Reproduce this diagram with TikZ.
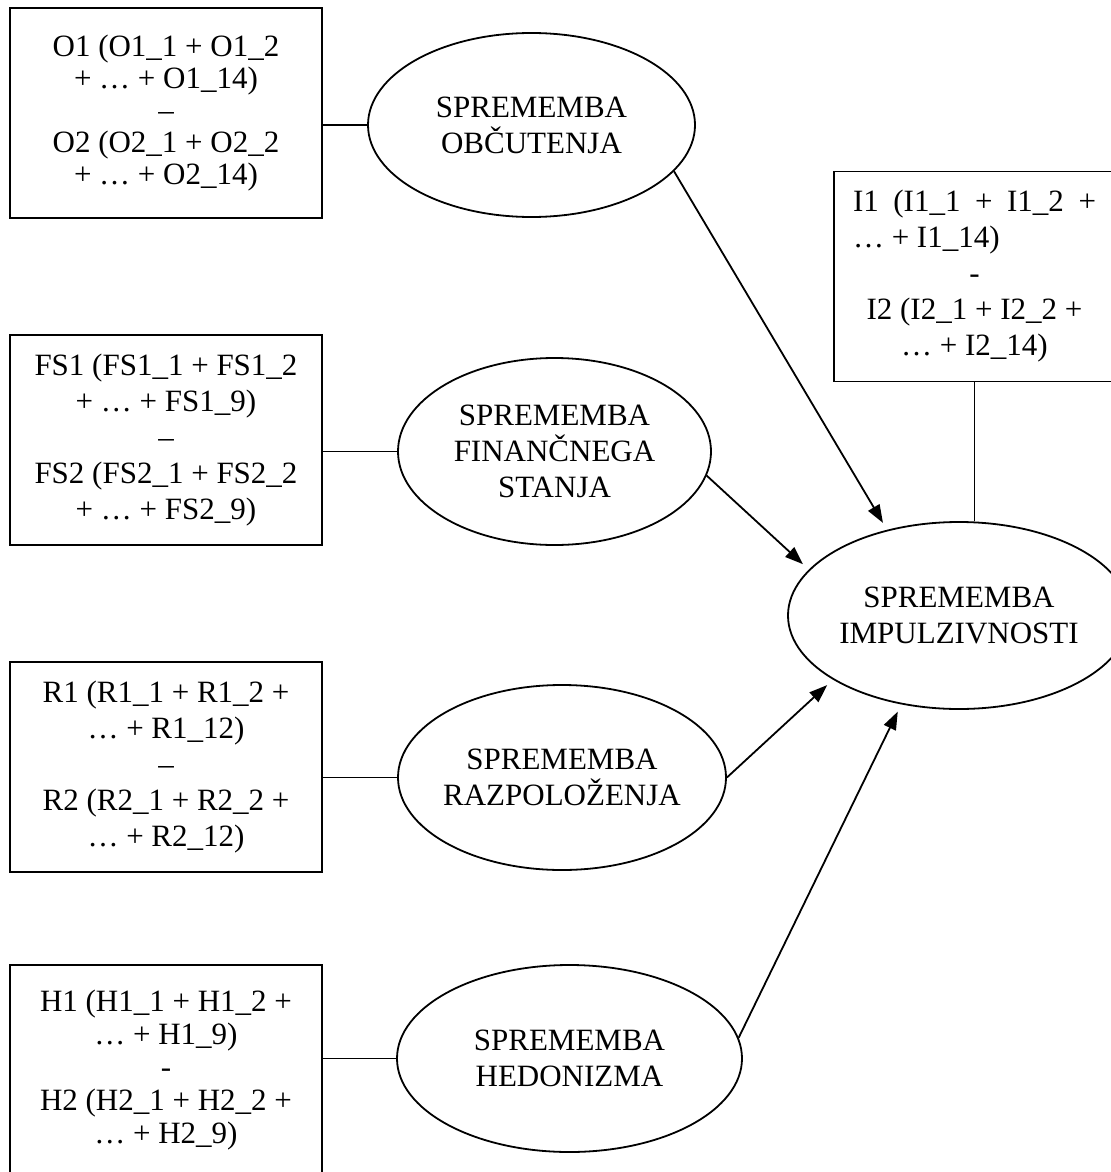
\documentclass[tikz,border=0pt]{standalone}
\usepackage{fontspec}
\setmainfont{Liberation Serif}
\usetikzlibrary{shapes.geometric,arrows.meta}

\begin{document}
\begin{tikzpicture}[x=0.5pt, y=-0.5pt, line width=0.9pt,
		itembox/.style={draw, rectangle, minimum width=156pt, minimum height=105pt, inner sep=0pt, align=center, font=\fontsize{15.5pt}{#1}\selectfont},
		latent/.style={draw, ellipse, inner xsep=-8pt, inner ysep=0pt, align=center, font=\fontsize{15.5pt}{18pt}\selectfont},
		effect/.style={-{Triangle[length=9pt, width=6.5pt]}, shorten >=4pt}]
			\clip (0,0) rectangle (1111,1172);
			\useasboundingbox (0,0) rectangle (1111,1172);
			
			% indicator boxes
			\node[itembox=16pt] (obox) at (166,113) {O1 (O1\_1 + O1\_2\\+ … + O1\_14)\\–\\O2 (O2\_1 + O2\_2\\+ … + O2\_14)};
			\node[itembox=18pt] (fbox) at (166,440) {FS1 (FS1\_1 + FS1\_2\\+ … + FS1\_9)\\–\\FS2 (FS2\_1 + FS2\_2\\+ … + FS2\_9)};
			\node[itembox=18pt] (rbox) at (166,767) {R1 (R1\_1 + R1\_2 +\\… + R1\_12)\\–\\R2 (R2\_1 + R2\_2 +\\… + R2\_12)};
			\node[itembox=16.5pt] (hbox) at (166,1070) {H1 (H1\_1 + H1\_2 +\\… + H1\_9)\\-\\H2 (H2\_1 + H2\_2 +\\… + H2\_9)};
			\node[itembox=18pt, minimum width=140.5pt] (ibox) at (974.5,276.5) {\makebox[121.5pt][s]{I1 (I1\_1 + I1\_2 +}\\\makebox[121.5pt][l]{… + I1\_14)}\\-\\I2 (I2\_1 + I2\_2 +\\… + I2\_14)};
			
			% latent variables
			\node[latent, minimum width=163.5pt, minimum height=92pt] (obc) at (531.5,125) {SPREMEMBA\\OBČUTENJA};
			\node[latent, minimum width=156.5pt, minimum height=93.5pt] (fin) at (554.5,451.5) {SPREMEMBA\\FINANČNEGA\\STANJA};
			\node[latent, minimum width=164pt, minimum height=92.5pt] (raz) at (562,777.5) {SPREMEMBA\\RAZPOLOŽENJA};
			\node[latent, minimum width=172.5pt, minimum height=93.5pt] (hed) at (569.5,1058.5) {SPREMEMBA\\HEDONIZMA};
			\node[latent, minimum width=171pt, minimum height=93.5pt] (imp) at (959,615.5) {SPREMEMBA\\IMPULZIVNOSTI};
			
			\draw (obc.west) -- (obc.west -| obox.east);
			\draw (fin.west) -- (fin.west -| fbox.east);
			\draw (raz.west) -- (raz.west -| rbox.east);
			\draw (hed.west) -- (hed.west -| hbox.east);
			\draw (ibox.south) -- (ibox.south |- imp.north);
			
			\draw[effect] (obc.-18) -- (imp.130);
			\draw[effect] (fin.-9) -- (imp.163);
			\draw[effect] (raz.east) -- (imp.207);
			\draw[effect] (hed.7) -- (imp.237);
		\end{tikzpicture}
\end{document}
